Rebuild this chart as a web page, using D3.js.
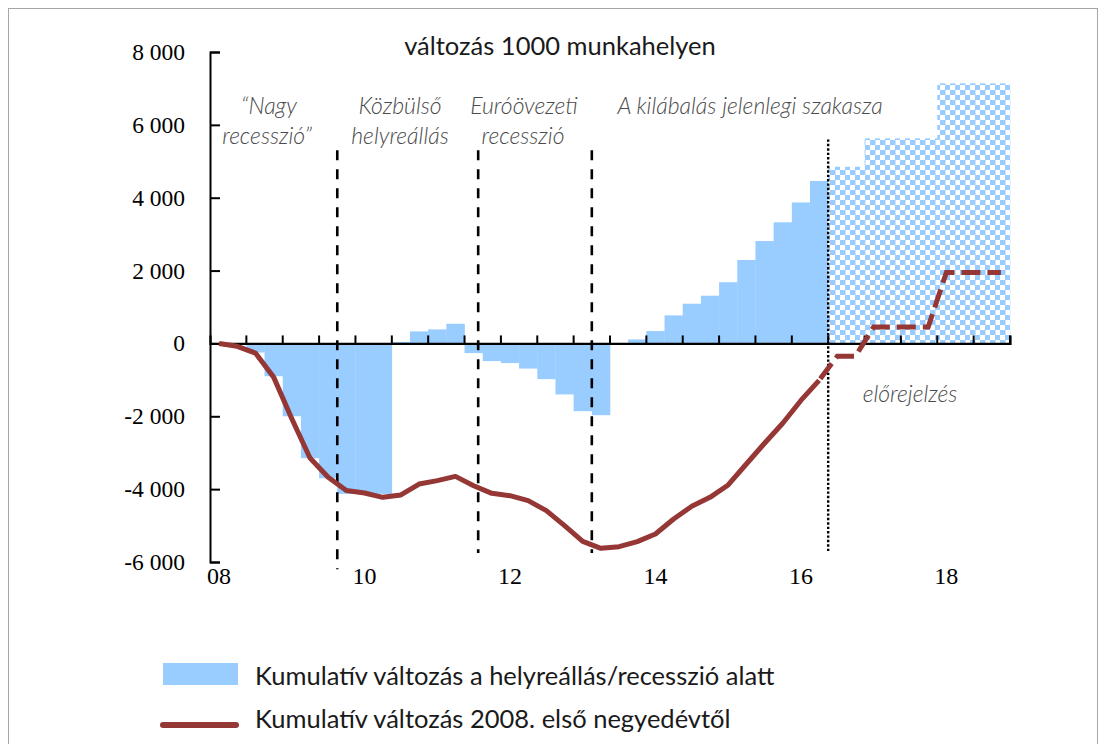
<!DOCTYPE html>
<html>
<head>
<meta charset="utf-8">
<script src="https://cdn.jsdelivr.net/npm/d3@7"></script>
<style>
  body { margin: 0; background: #fff; }
  svg { display: block; }
  .serif { font-family: "Liberation Serif", "Times New Roman", serif; }
</style>
</head>
<body>
<div id="chart"></div>
<script>
// Quarterly categories 2008Q1 - 2018Q4
const years = [2008, 2009, 2010, 2011, 2012, 2013, 2014, 2015, 2016, 2017, 2018];
const quarters = years.flatMap(y => [1, 2, 3, 4].map(q => `${y}Q${q}`));

// x tick labels (every second year)
const yearLabels = ["08", "10", "12", "14", "16", "18"];
const yearLabelCats = ["2008Q1", "2010Q1", "2012Q1", "2014Q1", "2016Q1", "2018Q1"];

// Cumulative change during recovery / recession (thousand jobs), 2008Q1 - 2016Q2
const barValues = [0, 0, -250, -900, -2000, -3150, -3700, -4130, -4130, -4130,
  40, 330, 385, 540, -265, -485, -540, -690, -980, -1400, -1860, -1970,
  0, 110, 340, 770, 1090, 1310, 1680, 2290, 2810, 3325, 3870, 4460];
// forecast part, 2016Q3 - 2018Q4
const forecastBarValues = [4850, 4850, 5630, 5630, 5630, 5630, 7140, 7140, 7140, 7140];

// Cumulative change since 2008Q1
const lineValues = [0, -80, -265, -925, -2065, -3145, -3675, -4040, -4105, -4225,
  -4160, -3860, -3765, -3650, -3905, -4115, -4180, -4315, -4590, -5000, -5435,
  -5625, -5580, -5440, -5230, -4820, -4470, -4225, -3885, -3310, -2740, -2190,
  -1565, -1015];
const forecastLineValues = [-350, -350, 450, 450, 450, 450, 1950, 1950, 1950, 1950];

// Period boundaries (in quarter index units)
const periodLines = [7, 14.75, 21];
const forecastStart = 34;

const yTicks = [-6000, -4000, -2000, 0, 2000, 4000, 6000, 8000];

const W = 1107, H = 744;
const blue = "#99ccff";
const red = "#953735";

const svg = d3.select("#chart").append("svg")
  .attr("width", W)
  .attr("height", H);

// frame
svg.append("rect")
  .attr("x", 8.5).attr("y", 8.5)
  .attr("width", 1089).attr("height", 760)
  .attr("fill", "none")
  .attr("stroke", "#a6a6a6")
  .attr("stroke-width", 1);

// checkered pattern for forecast bars
const defs = svg.append("defs");
const pat = defs.append("pattern")
  .attr("id", "checker")
  .attr("patternUnits", "userSpaceOnUse")
  .attr("width", 10).attr("height", 10);
pat.append("rect").attr("width", 10).attr("height", 10).attr("fill", "#fff");
pat.append("rect").attr("x", 0).attr("y", 0).attr("width", 5.5).attr("height", 5).attr("fill", blue);
pat.append("rect").attr("x", 5).attr("y", 5).attr("width", 5.5).attr("height", 5).attr("fill", blue);

// Scales
const x = d3.scaleBand()
  .domain(quarters)
  .range([210, 1010])
  .padding(0);

const y = d3.scaleLinear()
  .domain([-6000, 8000])
  .range([562, 52]);

const bw = x.bandwidth();
const xPos = i => x.range()[0] + i * bw;
const xMid = i => x(quarters[i]) + bw / 2;

// Bars
const barData = barValues.map((v, i) => ({cat: quarters[i], v: v}));
const fcBarData = forecastBarValues.map((v, i) => ({cat: quarters[barValues.length + i], v: v}));

svg.selectAll(".bar")
  .data(barData)
  .enter()
  .append("rect")
  .attr("class", "bar")
  .attr("x", d => x(d.cat))
  .attr("width", bw + 0.3)
  .attr("y", d => y(Math.max(0, d.v)))
  .attr("height", d => Math.abs(y(d.v) - y(0)))
  .attr("fill", blue);

svg.selectAll(".fbar")
  .data(fcBarData)
  .enter()
  .append("rect")
  .attr("class", "fbar")
  .attr("x", d => x(d.cat))
  .attr("width", bw + 0.3)
  .attr("y", d => y(Math.max(0, d.v)))
  .attr("height", d => Math.abs(y(d.v) - y(0)))
  .attr("fill", "url(#checker)");

// Period separators
periodLines.forEach((p, k) => {
  svg.append("line")
    .attr("x1", xPos(p)).attr("x2", xPos(p))
    .attr("y1", y(5300)).attr("y2", y(k === 0 ? -6200 : -5750))
    .attr("stroke", "#000")
    .attr("stroke-width", 2.6)
    .attr("stroke-dasharray", "10,9");
});

svg.append("line")
  .attr("x1", xPos(forecastStart)).attr("x2", xPos(forecastStart))
  .attr("y1", y(5600)).attr("y2", y(-5750))
  .attr("stroke", "#000")
  .attr("stroke-width", 2.4)
  .attr("stroke-dasharray", "2.4,2");

// Axes
const yAxis = d3.axisLeft(y)
  .tickValues(yTicks)
  .tickSize(-10)
  .tickFormat(d => d3.format(",")(d).replace(/,/g, " ").replace("−", "-"));

const gy = svg.append("g")
  .attr("transform", `translate(${x.range()[0]},0)`)
  .call(yAxis);
gy.attr("font-family", null);
gy.select(".domain").attr("stroke", "#000").attr("stroke-width", 2);
gy.selectAll(".tick line").attr("stroke", "#000").attr("stroke-width", 2);
gy.selectAll(".tick text")
  .attr("class", "serif")
  .attr("x", -25)
  .style("font-family", "'Liberation Serif', 'Times New Roman', serif")
  .style("font-size", "23.5px")
  .attr("fill", "#000");

const tickCats = quarters.filter((q, i) => i % 2 === 0).slice(1);
const xAxis = d3.axisBottom(x)
  .tickValues(tickCats)
  .tickSize(-8)
  .tickFormat("");

const gx = svg.append("g")
  .attr("transform", `translate(0,${y(0)})`)
  .call(xAxis);
gx.select(".domain").attr("stroke", "#000").attr("stroke-width", 2.2);
gx.selectAll(".tick")
  .attr("transform", d => `translate(${x(d)},0)`);
gx.selectAll(".tick line").attr("stroke", "#000").attr("stroke-width", 2);
gx.append("line")
  .attr("x1", x.range()[1]).attr("x2", x.range()[1])
  .attr("y1", 0).attr("y2", -8)
  .attr("stroke", "#000").attr("stroke-width", 2);

// year labels
svg.selectAll(".xlab")
  .data(yearLabels)
  .enter()
  .append("text")
  .attr("class", "xlab serif")
  .attr("x", (d, i) => x(yearLabelCats[i]) + bw / 2)
  .attr("y", 584)
  .attr("text-anchor", "middle")
  .style("font-family", "'Liberation Serif', 'Times New Roman', serif")
  .style("font-size", "24px")
  .text(d => d);

// Lines
const line = d3.line()
  .x(d => xMid(d.i))
  .y(d => y(d.v));

const lineData = lineValues.map((v, i) => ({i: i, v: v}));
const fcLineData = [lineData[lineData.length - 1]]
  .concat(forecastLineValues.map((v, i) => ({i: lineValues.length + i, v: v})));

svg.append("path")
  .datum(lineData)
  .attr("fill", "none")
  .attr("stroke", red)
  .attr("stroke-width", 5)
  .attr("stroke-linejoin", "round")
  .attr("d", line);

svg.append("path")
  .datum(fcLineData)
  .attr("fill", "none")
  .attr("stroke", red)
  .attr("stroke-width", 5)
  .attr("stroke-dasharray", "19,7")
  .attr("stroke-dashoffset", -2)
  .attr("d", line);

// Title
svg.append("text")
  .attr("x", 560)
  .attr("y", 55)
  .attr("text-anchor", "middle")
  .attr("font-family", "Lato, 'Open Sans', sans-serif")
  .attr("font-size", 25.5)
  .attr("fill", "#1a1a1a")
  .text("változás 1000 munkahelyen");

// Period annotations
const noteFont = "Lato, 'Open Sans', sans-serif";
const notes = [
  {x: 269, y: 114, t: "“Nagy"},
  {x: 267, y: 144, t: "recesszió”"},
  {x: 400, y: 114, t: "Közbülső"},
  {x: 400, y: 144, t: "helyreállás"},
  {x: 524, y: 114, t: "Euróövezeti"},
  {x: 523, y: 144, t: "recesszió"},
  {x: 750, y: 114, t: "A kilábalás jelenlegi szakasza"},
  {x: 910, y: 402, t: "előrejelzés"}
];
svg.selectAll(".note")
  .data(notes)
  .enter()
  .append("text")
  .attr("class", "note")
  .attr("x", d => d.x)
  .attr("y", d => d.y)
  .attr("text-anchor", "middle")
  .attr("font-family", noteFont)
  .attr("font-style", "italic")
  .attr("font-weight", 300)
  .attr("font-size", 23)
  .attr("fill", "#4a4a4a")
  .text(d => d.t);

// Legend
svg.append("rect")
  .attr("x", 163).attr("y", 663)
  .attr("width", 75).attr("height", 22)
  .attr("fill", blue);
svg.append("text")
  .attr("x", 255).attr("y", 685)
  .attr("font-family", "Lato, 'Open Sans', sans-serif")
  .attr("font-size", 25.5)
  .attr("fill", "#1a1a1a")
  .text("Kumulatív változás a helyreállás/recesszió alatt");

svg.append("line")
  .attr("x1", 163).attr("x2", 236)
  .attr("y1", 725).attr("y2", 725)
  .attr("stroke", red)
  .attr("stroke-width", 6)
  .attr("stroke-linecap", "round");
svg.append("text")
  .attr("x", 255).attr("y", 728)
  .attr("font-family", "Lato, 'Open Sans', sans-serif")
  .attr("font-size", 25.5)
  .attr("fill", "#1a1a1a")
  .text("Kumulatív változás 2008. első negyedévtől");
</script>
</body>
</html>
